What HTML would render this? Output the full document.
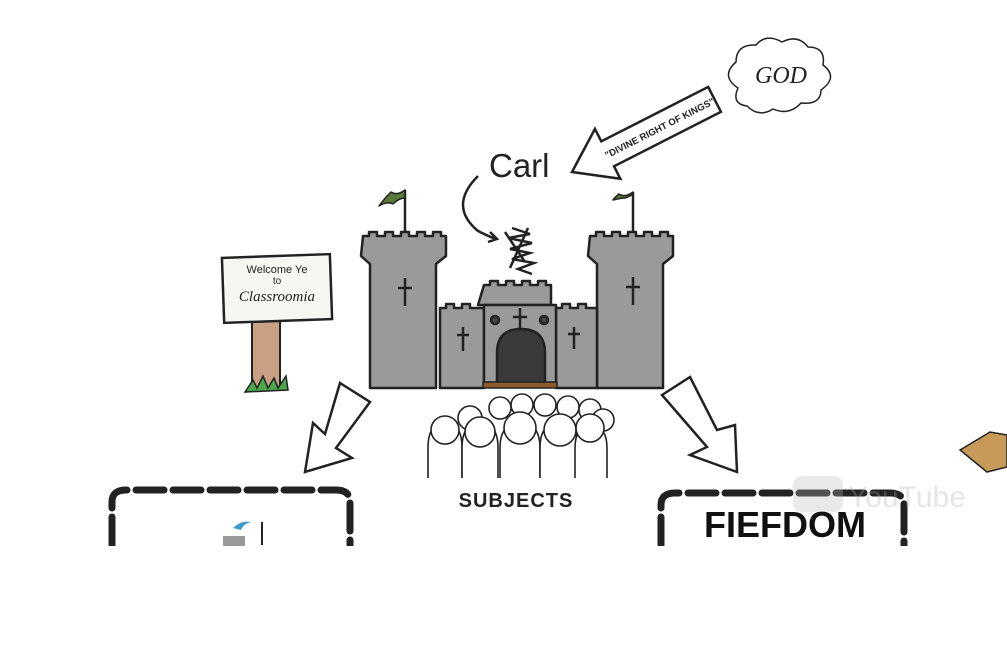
<!DOCTYPE html>
<html><head><style>
body{margin:0;width:1007px;height:645px;background:#fff;overflow:hidden;font-family:"Liberation Sans",sans-serif}
</style></head><body>
<svg width="1007" height="645" viewBox="0 0 1007 645" xmlns="http://www.w3.org/2000/svg">
<g stroke="#222" stroke-width="2.5" fill="#9a9a9a" stroke-linejoin="round">
<line x1="405" y1="190" x2="405" y2="238"/>
<path d="M405 190 q-8 6 -14 2 q-8 8 -12 14 q8 -5 14 -2 q6 -6 12 -6z" fill="#5a7a3a" stroke-width="1.5"/>
<line x1="633" y1="192" x2="633" y2="238"/>
<path d="M633 192 q-8 6 -14 2 q-5 4 -6 6 q8 -2 12 -2 q6 -2 8 -4z" fill="#5a7a3a" stroke-width="1.5"/>
<path d="M363 236 h6 v-4 h8 v4 h8 v-4 h8 v4 h8 v-4 h8 v4 h8 v-4 h8 v4 h8 v-4 h8 v4 h5 v20 l-10 8 v124 h-66 v-124 l-9 -8z"/>
<path d="M590 236 h6 v-4 h8 v4 h8 v-4 h8 v4 h8 v-4 h8 v4 h8 v-4 h8 v4 h8 v-4 h8 v4 h5 v20 l-10 8 v124 h-66 v-124 l-9 -8z"/>
<path d="M440 308 h6 v-4 h8 v4 h8 v-4 h8 v4 h14 v80 h-44z"/>
<path d="M556 308 h6 v-4 h8 v4 h8 v-4 h8 v4 h11 v80 h-41z"/>
<path d="M484 285 h6 v-4 h8 v4 h8 v-4 h8 v4 h8 v-4 h8 v4 h8 v-4 h8 v4 h5 v20 h-73z"/>
<rect x="484" y="305" width="72" height="80"/>
<path d="M497 383 v-30 q0 -24 24 -24 q24 0 24 24 v30z" fill="#3a3a3a"/>
<rect x="483" y="382" width="74" height="6" fill="#8a5a2a" stroke-width="1.5"/>
<circle cx="495" cy="320" r="4" fill="#444"/><circle cx="544" cy="320" r="4" fill="#444"/>
</g>
<g stroke="#222" stroke-width="2.5" fill="none">
<path d="M405 278v28M398 288h14M633 277v28M626 287h14M520 308v22M513 317h14M463 327v24M457 335h12M574 327v22M568 334h12"/>
<path d="M478 176 q-30 30 0 55 q12 6 18 8 M490 232 l7 7 -9 3"/>
<path d="M512 228 l18 6 -22 4 24 5 -22 6 20 4 -18 6 22 4 -16 6 14 5 M505 232 l20 30 M528 228 l-18 40" stroke-width="2.5"/>
</g>
<text x="489" y="177" font-size="33" fill="#222">Carl</text>
<g transform="translate(572,172) rotate(-27)">
<path d="M0 0 L40 -28 L40 -14 L160 -14 L160 14 L40 14 L40 28 Z" fill="#fff" stroke="#222" stroke-width="2.5"/>
<text x="98" y="4" font-size="9.5" font-weight="bold" text-anchor="middle" fill="#222">"DIVINE RIGHT OF KINGS"</text>
</g>
<path d="M738 88 q-18 -12 -2 -26 q0 -18 20 -17 q10 -12 26 -3 q16 -8 26 5 q18 0 15 18 q16 12 -2 25 q0 15 -20 13 q-12 13 -28 6 q-14 9 -26 -3 q-16 -2 -9 -18z" fill="#fff" stroke="#222" stroke-width="1.5"/>
<text x="781" y="83" font-size="24" font-style="italic" font-family="Liberation Serif,serif" text-anchor="middle" fill="#222">GOD</text>
<rect x="252" y="318" width="28" height="70" fill="#c9a084" stroke="#222" stroke-width="2"/>
<path d="M245 392 l8 -12 4 8 6 -12 5 12 6 -10 4 10 8 -12 2 14z" fill="#4aa84a" stroke="#222" stroke-width="1.5"/>
<rect x="223" y="256" width="108" height="65" fill="#f6f6f2" stroke="#222" stroke-width="2.5" transform="rotate(-2 277 288)"/>
<text x="277" y="273" font-size="11" text-anchor="middle" fill="#222">Welcome Ye</text>
<text x="277" y="284" font-size="10" text-anchor="middle" fill="#222">to</text>
<text x="277" y="301" font-size="15" font-style="italic" font-family="Liberation Serif,serif" text-anchor="middle" fill="#222">Classroomia</text>
<path d="M340 383 L370 402 L336 448 L352 458 L305 472 L313 423 L325 434 Z" fill="#fff" stroke="#222" stroke-width="2.5"/>
<path d="M662 395 L690 377 L717 430 L735 425 L737 472 L690 455 L707 447 Z" fill="#fff" stroke="#222" stroke-width="2.5"/>
<g fill="#fff" stroke="#222" stroke-width="1.6">
<circle cx="500" cy="408" r="11"/><circle cx="522" cy="405" r="11"/><circle cx="545" cy="405" r="11"/><circle cx="568" cy="407" r="11"/><circle cx="590" cy="410" r="11"/>
<circle cx="470" cy="418" r="12"/><circle cx="603" cy="420" r="11"/>
<path d="M428 478 v-30 q0 -25 17 -25 q17 0 17 25 v30"/><circle cx="445" cy="430" r="14"/>
<path d="M462 478 v-30 q0 -25 18 -25 q18 0 18 25 v30"/><circle cx="480" cy="432" r="15"/>
<path d="M500 478 v-30 q0 -25 20 -25 q20 0 20 25 v30"/><circle cx="520" cy="428" r="16"/>
<path d="M540 478 v-30 q0 -25 19 -25 q19 0 19 25 v30"/><circle cx="560" cy="430" r="16"/>
<path d="M575 478 v-30 q0 -22 16 -22 q16 0 16 22 v30"/><circle cx="590" cy="428" r="14"/>
</g>
<text x="516" y="507" font-size="20" font-weight="bold" text-anchor="middle" fill="#222" letter-spacing="1">SUBJECTS</text>
<path d="M112 545 V502 q0 -12 14 -12 H336 q14 0 14 12 V545" fill="none" stroke="#222" stroke-width="7" stroke-dasharray="28 9" stroke-linecap="round"/>
<path d="M661 545 V505 q0 -12 14 -12 H890 q14 0 14 12 V545" fill="none" stroke="#222" stroke-width="7" stroke-dasharray="28 9" stroke-linecap="round"/>
<text x="785" y="537" font-size="36" font-weight="bold" text-anchor="middle" fill="#111">FIEFDOM</text>
<path d="M233 528 q8 -8 18 -6 q-8 2 -10 8z" fill="#3a9acc"/>
<rect x="223" y="536" width="22" height="10" fill="#999"/>
<line x1="262" y1="522" x2="262" y2="545" stroke="#222" stroke-width="2"/>
<g opacity="0.3"><rect x="793" y="476" width="50" height="36" rx="9" fill="#bbb"/><text x="848" y="507" font-size="30" fill="#aaa">YouTube</text></g>
<path d="M960 450 l30 -18 l17 3 v32 l-20 5z" fill="#c89a5a" stroke="#222" stroke-width="1.5"/>
<rect x="0" y="546" width="1007" height="99" fill="#fff"/>
</svg>
</body></html>
